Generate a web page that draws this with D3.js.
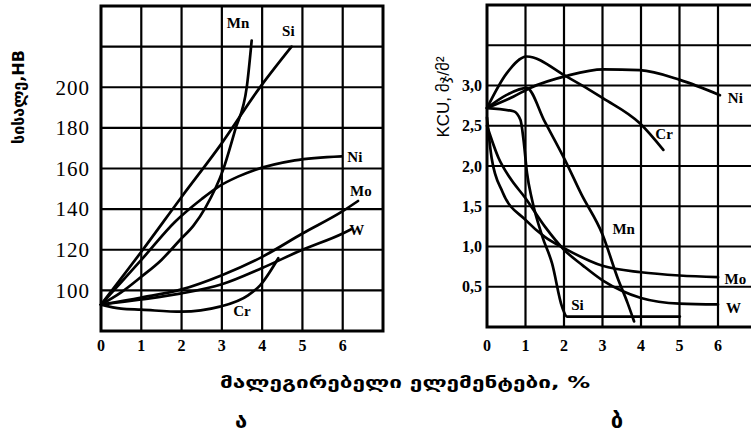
<!DOCTYPE html>
<html><head><meta charset="utf-8">
<script src="https://cdn.jsdelivr.net/npm/d3@7"></script>
<style>
html,body{margin:0;padding:0;background:#fff;}
svg{display:block;}
</style></head>
<body>
<svg id="c" width="751" height="436"></svg>
<script>
// ---------- DATA ----------
const xTickLabels = ["0","1","2","3","4","5","6"];
const hardnessTicks = [100,120,140,160,180,200];
const hardnessGrid = [100,120,140,160,180,200,220];
const kcuTicks = [0.5,1.0,1.5,2.0,2.5,3.0];
const kcuTickLabels = ["0,5","1,0","1,5","2,0","2,5","3,0"];
const kcuGrid = [0.5,1.0,1.5,2.0,2.5,3.0,3.5];

// Left chart: hardness HB vs alloying element %
const hbMn = [[0,93],[0.5,99],[1,106.7],[1.5,115],[1.96,124.8],[2.3,132],[2.6,141],[3.03,159.3],[3.33,179],[3.62,200.3],[3.74,223]];
const hbSi = [[0,93],[1,119],[2,146],[3,172.5],[3.9,198.7],[4.73,220]];
const hbNi = [[0,93],[0.5,104],[1,115],[1.84,133.8],[2.5,145],[2.91,151],[3.4,156],[3.82,159.3],[4.81,164],[5.97,166]];
const hbMo = [[0,93],[1,96.5],[2,100.5],[3,107.5],[4,116.5],[5,128],[6,139],[6.38,144]];
const hbW  = [[0,93],[1,95.5],[2,98.5],[3,103],[4,111],[5,120],[6,128],[6.2,130]];
const hbCr = [[0,93],[0.5,91],[1,90.5],[2,89.5],[2.95,92],[3.66,97.7],[3.95,102.5],[4.4,115.8]];

// Right chart: KCU vs alloying element %
const kNi = [[0,2.72],[0.68,2.86],[1.12,2.97],[2.07,3.12],[3.02,3.2],[3.97,3.19],[5.01,3.07],[6.05,2.88]];
const kCr = [[0,2.72],[0.51,3.15],[1.03,3.36],[2.07,3.11],[3.02,2.84],[3.97,2.53],[4.58,2.2]];
const kMn = [[0,2.72],[0.5,2.88],[1.03,2.97],[1.5,2.55],[2.03,2.07],[2.45,1.65],[3.0,1.15],[3.4,0.6],[3.65,0.3],[3.82,0.07]];
const kSi = [[0,2.72],[0.69,2.68],[0.87,2.57],[0.95,2.32],[1.04,1.91],[1.17,1.58],[1.44,1.12],[1.69,0.79],[1.95,0.25],[2.08,0.13],[5.01,0.13]];
const kMo = [[0,2.6],[0.12,2.1],[0.4,1.68],[1,1.33],[1.5,1.12],[2,0.98],[3,0.76],[4,0.68],[5,0.64],[6,0.62]];
const kW  = [[0,2.5],[0.3,2.1],[0.6,1.85],[1,1.6],[1.5,1.25],[2,0.96],[2.5,0.76],[3,0.58],[3.5,0.45],[4,0.36],[5,0.29],[6,0.28]];

const leftSeries = [hbMn,hbSi,hbNi,hbMo,hbW,hbCr];
const rightSeries = [kNi,kCr,kMn,kSi,kMo,kW];
const leftLabels = [["Mn",3.4,232],["Si",4.65,228],["Ni",6.3,166],["Mo",6.45,149],["W",6.35,130],["Cr",3.5,90]];
const rightLabels = [["Ni",6.45,2.85],["Cr",4.6,2.4],["Mn",3.55,1.22],["Si",2.35,0.28],["Mo",6.45,0.6],["W",6.4,0.24]];

const xTitle = "მალეგირებელი ელემენტები, %";
const yTitleL = "სისალე,HB";
const yTitleR = "KCU, მჯ/მ²";
const panelLetters = ["ა","ბ"];

// ---------- DRAW ----------
const svg = d3.select("#c");
const xL = d3.scaleLinear().domain([0,7]).range([101,383]);
const yL = d3.scaleLinear().domain([80,240]).range([331,6]);
const xR = d3.scaleLinear().domain([0,7]).range([487,756.5]);
const yR = d3.scaleLinear().domain([0,4]).range([327,5]);

function panel(x, y, gridY, series, labels){
  const g = svg.append("g");
  d3.range(1,7).forEach(v=>{
    g.append("line").attr("x1",x(v)).attr("x2",x(v)).attr("y1",y.range()[0]).attr("y2",y.range()[1])
     .attr("stroke","#000").attr("stroke-width",2.2);
  });
  gridY.forEach(v=>{
    g.append("line").attr("x1",x(0)).attr("x2",x(7)).attr("y1",y(v)).attr("y2",y(v))
     .attr("stroke","#000").attr("stroke-width",2.2);
  });
  g.append("rect").attr("x",x(0)).attr("y",y.range()[1]).attr("width",x(7)-x(0)).attr("height",y.range()[0]-y.range()[1])
   .attr("fill","none").attr("stroke","#000").attr("stroke-width",3);
  const line = d3.line().x(d=>x(d[0])).y(d=>y(d[1])).curve(d3.curveMonotoneX);
  series.forEach(s=>{
    g.append("path").attr("d",line(s)).attr("fill","none").attr("stroke","#000").attr("stroke-width",2.7)
     .attr("stroke-linecap","round");
  });
  labels.forEach(l=>{
    g.append("text").attr("x",x(l[1])).attr("y",y(l[2])).attr("dy","0.35em").attr("text-anchor","middle")
     .attr("font-family","Liberation Serif, serif").attr("font-weight","bold").attr("font-size",15)
     .text(l[0]);
  });
  xTickLabels.forEach((t,i)=>{
    g.append("text").attr("x",x(i)).attr("y",351).attr("text-anchor","middle")
     .attr("font-family","Liberation Serif, serif").attr("font-weight","bold").attr("font-size",16)
     .text(t);
  });
}

panel(xL, yL, hardnessGrid, leftSeries, leftLabels);
panel(xR, yR, kcuGrid, rightSeries, rightLabels);

hardnessTicks.forEach(v=>{
  svg.append("text").attr("x",90).attr("y",yL(v)).attr("dy","0.35em").attr("text-anchor","end")
   .attr("font-family","Liberation Serif, serif").attr("font-size",21).attr("letter-spacing",1)
   .text(v);
});
kcuTicks.forEach((v,i)=>{
  svg.append("text").attr("x",482).attr("y",yR(v)).attr("dy","0.35em").attr("text-anchor","end")
   .attr("font-family","Liberation Serif, serif").attr("font-weight","bold").attr("font-size",16)
   .text(kcuTickLabels[i]);
});

svg.append("text").attr("transform","translate(24,97) rotate(-90)").attr("text-anchor","middle")
 .attr("font-family","DejaVu Sans, sans-serif").attr("font-weight","bold").attr("font-size",16)
 .text(yTitleL);
svg.append("text").attr("transform","translate(449,97) rotate(-90)").attr("text-anchor","middle")
 .attr("font-family","Liberation Sans, DejaVu Sans, sans-serif").attr("font-size",17)
 .text(yTitleR);
svg.append("text").attr("x",405).attr("y",388).attr("text-anchor","middle")
 .attr("font-family","DejaVu Sans, sans-serif").attr("font-weight","bold").attr("font-size",16)
 .attr("textLength",370).attr("lengthAdjust","spacingAndGlyphs")
 .text(xTitle);
svg.append("text").attr("x",241).attr("y",428).attr("text-anchor","middle")
 .attr("font-family","DejaVu Sans, sans-serif").attr("font-weight","bold").attr("font-size",22)
 .text(panelLetters[0]);
svg.append("text").attr("x",617).attr("y",428).attr("text-anchor","middle")
 .attr("font-family","DejaVu Sans, sans-serif").attr("font-weight","bold").attr("font-size",22)
 .text(panelLetters[1]);
</script>
</body></html>
